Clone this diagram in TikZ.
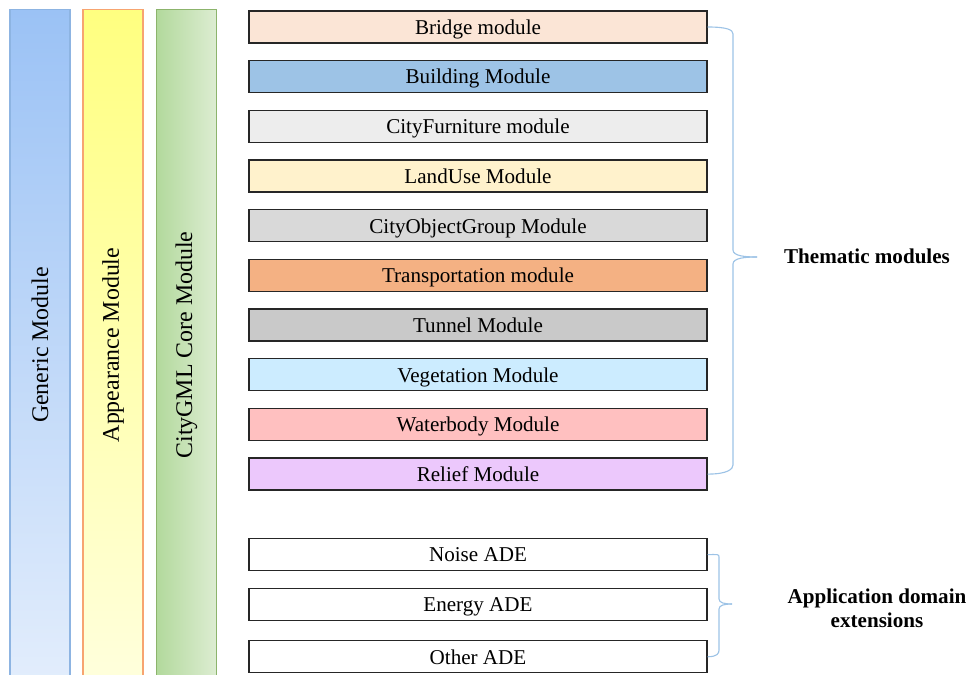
\documentclass[tikz,border=0pt]{standalone}
\usepackage{fontspec}
\setmainfont{Liberation Serif}
\usetikzlibrary{positioning}
\definecolor{genericTop}{HTML}{9BC2F5}
\definecolor{genericBot}{HTML}{E2EDFC}
\definecolor{genericLine}{HTML}{8DB4E2}
\definecolor{appTop}{HTML}{FFFF80}
\definecolor{appBot}{HTML}{FFFFDC}
\definecolor{appLine}{HTML}{F7A470}
\definecolor{coreLeft}{HTML}{B2D99C}
\definecolor{coreRight}{HTML}{DDEDD2}
\definecolor{coreLine}{HTML}{8CB46C}
\definecolor{bridgeFill}{HTML}{FBE5D6}
\definecolor{buildingFill}{HTML}{9DC3E6}
\definecolor{furnitureFill}{HTML}{EDEDED}
\definecolor{landuseFill}{HTML}{FFF2CC}
\definecolor{groupFill}{HTML}{D9D9D9}
\definecolor{transportFill}{HTML}{F4B183}
\definecolor{tunnelFill}{HTML}{C9C9C9}
\definecolor{vegetationFill}{HTML}{CCECFF}
\definecolor{waterFill}{HTML}{FFC0C0}
\definecolor{reliefFill}{HTML}{ECC8FC}
\definecolor{braceLine}{HTML}{9DC3E6}
\begin{document}
\begin{tikzpicture}[x=0.025cm,y=-0.025cm]
        \tikzstyle{modbox}=[draw=black!85, line width=0.9pt, minimum width=11.45cm, minimum height=0.8cm, inner sep=0pt, text depth=0pt, font=\fontsize{15}{18}\selectfont]
        \tikzstyle{barbox}=[line width=0.8pt, minimum width=1.5cm, minimum height=16.75cm, inner sep=0pt, font=\fontsize{17}{20}\selectfont]
        \tikzstyle{bracestyle}=[draw=braceLine, line width=0.8pt]
        \useasboundingbox (0,0) rectangle (966,675);

        % the three vertical modules on the left
        \node[barbox, draw=genericLine, top color=genericTop, bottom color=genericBot] at (40,345) (generic) {\rotatebox{90}{Generic Module}};
        \node[barbox, draw=appLine, top color=appTop, bottom color=appBot] at (113,345) (appearance) {\rotatebox{90}{Appearance Module}};
        \node[barbox, draw=coreLine, left color=coreLeft, right color=coreRight] at (186.5,345) (core) {\rotatebox{90}{CityGML Core Module}};

        % the thematic modules, one below the other
        \node[modbox, fill=bridgeFill] at (478,27) (bridge) {Bridge module};
        \node[modbox, fill=buildingFill, below=0.41cm of bridge] (building) {Building Module};
        \node[modbox, fill=furnitureFill, below=0.41cm of building] (furniture) {CityFurniture module};
        \node[modbox, fill=landuseFill, below=0.41cm of furniture] (landuse) {LandUse Module};
        \node[modbox, fill=groupFill, below=0.41cm of landuse] (group) {CityObjectGroup Module};
        \node[modbox, fill=transportFill, below=0.41cm of group] (transport) {Transportation module};
        \node[modbox, fill=tunnelFill, below=0.41cm of transport] (tunnel) {Tunnel Module};
        \node[modbox, fill=vegetationFill, below=0.41cm of tunnel] (vegetation) {Vegetation Module};
        \node[modbox, fill=waterFill, below=0.41cm of vegetation] (water) {Waterbody Module};
        \node[modbox, fill=reliefFill, below=0.41cm of water] (relief) {Relief Module};

        % the application domain extensions
        \node[modbox, fill=white, below=1.18cm of relief] (noise) {Noise ADE};
        \node[modbox, fill=white, below=0.42cm of noise] (energy) {Energy ADE};
        \node[modbox, fill=white, below=0.47cm of energy] (other) {Other ADE};

        % brace round the thematic modules
        \coordinate (themtip) at (757,257);
        \draw[bracestyle] (bridge.east) .. controls +(20,0) and +(0,-4) .. (733,34) -- (733,250) .. controls (733,256) and (745,257) .. (themtip);
        \draw[bracestyle] (relief.east) .. controls +(20,0) and +(0,4) .. (733,465) -- (733,264) .. controls (733,258) and (745,257) .. (themtip);
        \node[font=\fontsize{15}{17}\selectfont\bfseries] at (867,256) (themlabel) {Thematic modules};

        % brace round the extensions
        \coordinate (adetip) at (732,604);
        \draw[bracestyle] (noise.east) .. controls +(10,0) and +(0,-3) .. (719,557) -- (719,599) .. controls (719,603) and (725,604) .. (adetip);
        \draw[bracestyle] (other.east) .. controls +(10,0) and +(0,3) .. (719,650) -- (719,609) .. controls (719,605) and (725,604) .. (adetip);
        \node[font=\fontsize{15}{17}\selectfont\bfseries, align=center] at (877,608) (adelabel) {Application domain\\extensions};
    \end{tikzpicture}
\end{document}
